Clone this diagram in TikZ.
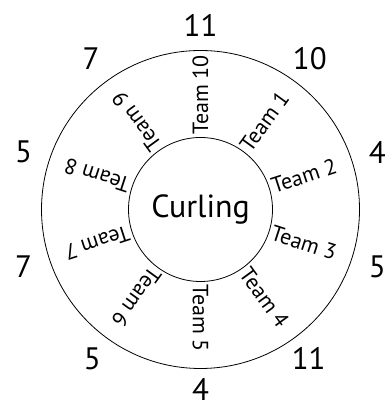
\documentclass[tikz,border=0pt]{standalone}
\usepackage{fontspec}
\setmainfont{PT Sans}
\usetikzlibrary{calc}
\begin{document}
\begin{tikzpicture}[x=1pt,y=1pt,
  ring/.style={draw=black,line width=0.8pt},
  teamlbl/.style={anchor=west,inner sep=0pt,font=\fontsize{22}{25}\selectfont},
  numlbl/.style={inner sep=0pt,font=\fontsize{31}{35}\selectfont},
  hub/.style={font=\fontsize{32}{36}\selectfont}]
\useasboundingbox (0,0) rectangle (388,403);
\coordinate (c) at (200.5,193.5);
\draw[ring] (c) circle (159);
\draw[ring] (c) circle (72);
\node[hub] (curl) at (c) {Curling};
\foreach \i/\a/\n/\r in {10/90/11/184,1/54/10/186,2/18/4/186,3/-18/5/186,4/-54/11/184,5/-90/4/180,6/-126/5/184,7/-162/7/186,8/162/5/186,9/126/7/186}{
  \node[teamlbl,rotate=\a] (t\i) at ($(c)+(\a:75)$) {Team \i};
  \node[numlbl] (n\i) at ($(c)+(\a:\r)$) {\n};
}
\end{tikzpicture}
\end{document}
